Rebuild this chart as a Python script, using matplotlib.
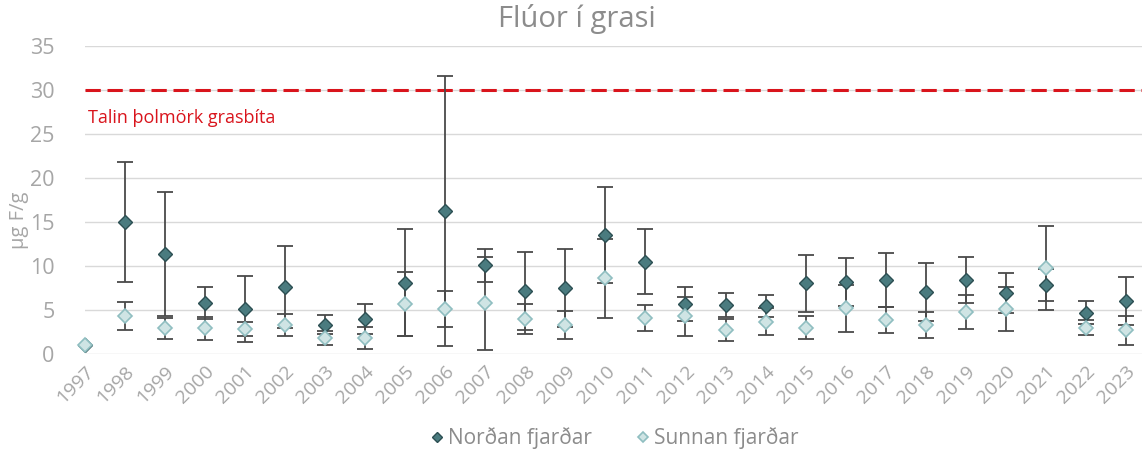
import matplotlib
matplotlib.use("Agg")
import matplotlib.pyplot as plt
import numpy as np

years = list(range(1997, 2024))
nordan = [1.02, 15.0, 11.36, 5.83, 5.15, 7.65, 3.37, 4.01, 8.14, 16.32, 10.11, 7.19, 7.5, 13.59,
          10.52, 5.75, 5.57, 5.45, 8.07, 8.22, 8.44, 7.12, 8.44, 6.97, 7.84, 4.73, 6.09]
nordan_sd = [0.0, 6.83, 7.06, 1.82, 3.71, 4.7, 1.1, 1.76, 6.1, 15.35, 1.86, 4.47, 4.43, 5.47,
             3.67, 1.92, 1.36, 1.25, 3.21, 2.72, 3.11, 3.29, 2.58, 2.27, 1.82, 1.29, 2.73]
sunnan = [1.02, 4.35, 2.95, 2.95, 2.84, 3.37, 1.82, 1.85, 5.68, 5.15, 5.8, 4.01, 3.33, 8.64,
          4.16, 4.32, 2.76, 3.7, 3.03, 5.23, 3.86, 3.33, 4.84, 5.18, 9.81, 3.03, 2.73]
sunnan_sd = [0.0, 1.57, 1.2, 1.33, 0.8, 1.25, 0.79, 1.24, 3.65, 2.05, 5.3, 1.76, 1.57, 4.47,
             1.48, 2.21, 1.28, 1.54, 1.29, 2.64, 1.47, 1.53, 1.95, 2.48, 4.8, 0.85, 1.63]
threshold = 30
threshold_label = "Talin þolmörk grasbíta"
title = "Flúor í grasi"
ylabel = "µg F/g"
series_names = ["Norðan fjarðar", "Sunnan fjarðar"]

plt.rcParams['font.family'] = ['Open Sans', 'DejaVu Sans']
gray = '#a6a6a6'

fig = plt.figure(figsize=(11.42, 4.54), dpi=100)
ax = fig.add_axes([85/1142, 1-354.3/454, (1142-85)/1142, (354.3-46.3)/454])

x = np.array(years)
nsd = np.array(nordan_sd)
ssd = np.array(sunnan_sd)
mask_n = nsd > 0
mask_s = ssd > 0
ax.errorbar(x[mask_n], np.array(nordan)[mask_n], yerr=nsd[mask_n], fmt='none',
            ecolor='#4a4a4a', elinewidth=1.3, capsize=5.5, capthick=1.3, zorder=3, clip_on=False)
ax.errorbar(x[mask_s], np.array(sunnan)[mask_s], yerr=ssd[mask_s], fmt='none',
            ecolor='#4a4a4a', elinewidth=1.3, capsize=5.5, capthick=1.3, zorder=3, clip_on=False)
ax.plot(x, nordan, linestyle='none', marker='D', markersize=7.5,
        markerfacecolor='#4a7b7f', markeredgecolor='#2c4f52', markeredgewidth=1.0,
        zorder=4, clip_on=False, label=series_names[0])
ax.plot(x, sunnan, linestyle='none', marker='D', markersize=7.5,
        markerfacecolor='#cfe4e4', markeredgecolor='#8fbec0', markeredgewidth=1.2,
        zorder=5, clip_on=False, label=series_names[1])

ax.axhline(threshold, color='#d9141c', linestyle=(0, (5, 2.2)), linewidth=2.2, zorder=2)
ax.text(1997.08, 26.8, threshold_label, color='#d9141c', fontsize=13, va='center', ha='left')

ax.set_xlim(1997, 1997 + (1142 - 84) / 40.07)
ax.set_ylim(0, 35)
ax.set_yticks(range(0, 36, 5))
ax.set_xticks(years)
ax.set_xticklabels([str(y) for y in years], rotation=45, ha='right', rotation_mode='anchor')
ax.tick_params(axis='both', length=0, colors=gray)
ax.tick_params(axis='y', pad=22, labelsize=15.5)
ax.tick_params(axis='x', pad=6, labelsize=14)
ax.grid(axis='y', color='#d9d9d9', linewidth=1.0, zorder=0)
ax.set_axisbelow(True)
for s in ax.spines.values():
    s.set_visible(False)

fig.text(19/1142, 1-220/454, ylabel, rotation=90, color=gray, fontsize=14.5, va='center', ha='center')
fig.text(577/1142, 1-19/454, title, color='#8c8c8c', fontsize=21, va='center', ha='center')

leg = fig.legend(loc='center', bbox_to_anchor=(613/1142, 1-438/454), ncol=2, frameon=False,
                 fontsize=15, handletextpad=0.1, columnspacing=2.0, markerscale=0.7,
                 handlelength=0.9)
for t in leg.get_texts():
    t.set_color('#8c8c8c')

fig.savefig('out.png', dpi=100)
